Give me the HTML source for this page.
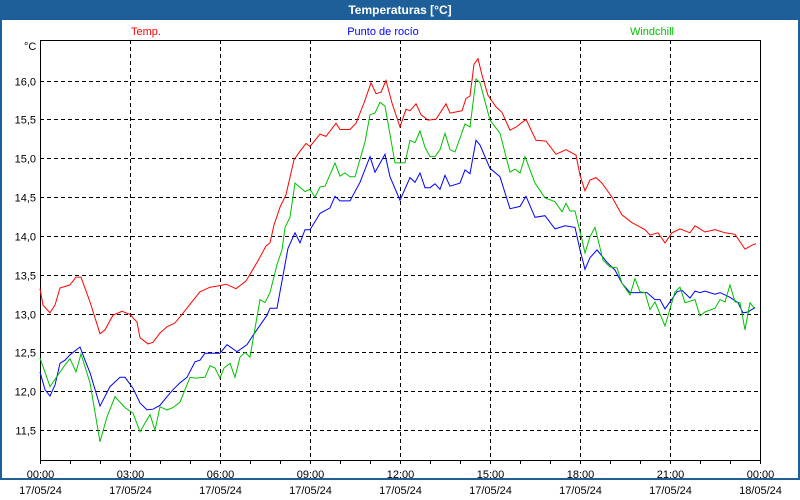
<!DOCTYPE html>
<html><head><meta charset="utf-8"><style>
body{margin:0;width:800px;height:500px;overflow:hidden;background:#fff;font-family:"Liberation Sans",sans-serif}
#frame{position:absolute;left:0;top:0;width:796px;height:478px;border:2px solid #1f5f99;border-top:none;}
#title{position:absolute;left:0;top:0;width:800px;height:20px;background:#1f5f99;color:#fff;font-weight:bold;font-size:12px;text-align:center;line-height:20px}
svg{position:absolute;left:0;top:0}
</style></head><body>
<div id="frame"></div>
<div id="title">Temperaturas [°C]</div>
<svg id="chart" width="800" height="500"></svg>
<script>
const yTicks=[11.5,12.0,12.5,13.0,13.5,14.0,14.5,15.0,15.5,16.0];
const xTickMinutes=[0,180,360,540,720,900,1080,1260,1440];
const xTickTimes=["00:00","03:00","06:00","09:00","12:00","15:00","18:00","21:00","00:00"];
const xTickDates=["17/05/24","17/05/24","17/05/24","17/05/24","17/05/24","17/05/24","17/05/24","17/05/24","18/05/24"];
const tempMin=[0,6,20,30,40,60,72,82,100,120,130,146,164,180,194,200,216,226,240,254,270,284,300,320,340,360,372,392,412,436,452,460,468,480,492,508,520,532,540,560,572,592,600,620,632,648,662,672,682,692,704,720,732,740,752,762,776,792,812,820,844,852,860,868,876,884,896,912,924,940,952,972,992,1012,1032,1052,1072,1080,1090,1100,1112,1124,1144,1164,1184,1210,1220,1236,1250,1264,1280,1300,1310,1330,1350,1370,1390,1410,1424,1432];
const tempVal=[13.32,13.11,13.01,13.11,13.33,13.37,13.47,13.47,13.15,12.74,12.79,12.98,13.03,12.99,12.89,12.69,12.61,12.63,12.75,12.83,12.88,12.99,13.12,13.28,13.34,13.36,13.38,13.32,13.42,13.68,13.87,13.91,14.14,14.37,14.53,14.98,15.09,15.19,15.15,15.31,15.28,15.45,15.37,15.37,15.45,15.71,15.97,15.83,15.85,16.0,15.71,15.40,15.63,15.61,15.70,15.56,15.49,15.50,15.70,15.58,15.61,15.77,15.80,16.21,16.28,16.07,15.81,15.66,15.59,15.36,15.40,15.50,15.23,15.22,15.05,15.11,15.04,14.78,14.58,14.72,14.75,14.68,14.50,14.27,14.17,14.08,14.01,14.04,13.91,14.04,14.09,14.04,14.13,14.05,14.08,14.04,14.02,13.83,13.88,13.90];
const dewMin=[0,10,20,30,40,50,60,80,90,100,120,140,160,170,186,200,214,226,240,254,266,280,294,310,320,330,360,374,394,414,426,440,454,460,474,480,490,496,510,520,530,540,560,580,590,600,620,640,660,670,690,700,720,740,750,760,770,780,790,800,810,820,840,850,860,872,880,900,920,940,960,972,990,1010,1030,1050,1070,1080,1090,1100,1114,1134,1150,1164,1180,1214,1230,1240,1250,1274,1284,1300,1310,1320,1330,1350,1360,1380,1396,1406,1416,1430];
const dewVal=[12.25,12.02,11.94,12.08,12.36,12.40,12.47,12.57,12.40,12.24,11.81,12.06,12.18,12.18,12.04,11.85,11.76,11.77,11.82,11.93,12.02,12.11,12.18,12.38,12.40,12.49,12.49,12.60,12.51,12.60,12.72,12.85,12.98,13.07,13.07,13.28,13.63,13.84,14.04,13.91,14.08,14.08,14.29,14.36,14.51,14.45,14.45,14.69,15.02,14.82,15.05,14.76,14.46,14.75,14.69,14.81,14.62,14.62,14.67,14.60,14.78,14.64,14.68,14.85,14.80,15.23,15.17,14.87,14.76,14.35,14.38,14.51,14.24,14.26,14.09,14.13,14.11,13.82,13.57,13.72,13.82,13.66,13.56,13.39,13.27,13.27,13.18,13.18,13.06,13.28,13.30,13.20,13.29,13.27,13.29,13.25,13.27,13.21,13.14,13.01,13.02,13.08];
const chillMin=[0,20,36,50,60,72,82,100,120,134,150,170,186,200,220,230,240,254,266,280,300,310,330,340,350,360,368,380,390,400,410,420,440,450,460,474,484,490,500,510,530,540,550,560,570,590,600,610,620,630,650,660,670,680,690,710,730,740,750,760,770,780,790,800,810,820,830,850,860,872,880,900,920,932,940,950,960,970,990,1010,1030,1044,1052,1060,1070,1084,1090,1100,1110,1126,1140,1154,1164,1180,1190,1200,1210,1220,1230,1250,1270,1280,1290,1310,1320,1330,1350,1360,1370,1380,1390,1400,1410,1420,1430];
const chillVal=[12.43,12.06,12.21,12.34,12.42,12.25,12.48,12.11,11.35,11.67,11.93,11.79,11.72,11.48,11.70,11.50,11.80,11.76,11.79,11.86,12.18,12.17,12.18,12.33,12.30,12.17,12.30,12.36,12.18,12.44,12.50,12.44,13.18,13.14,13.27,13.63,13.82,14.11,14.24,14.68,14.57,14.60,14.50,14.63,14.64,14.94,14.77,14.81,14.76,14.76,15.21,15.56,15.58,15.72,15.67,14.94,14.94,15.23,15.20,15.35,15.14,15.02,15.02,15.11,15.32,15.11,15.08,15.44,15.40,16.02,15.97,15.49,15.32,15.02,14.82,14.86,14.81,15.02,14.68,14.49,14.44,14.31,14.42,14.32,14.32,13.95,13.78,13.99,14.11,13.69,13.60,13.59,13.39,13.24,13.45,13.28,13.27,13.05,13.15,12.84,13.28,13.34,13.14,13.18,12.97,13.02,13.07,13.18,13.15,13.37,13.15,13.14,12.79,13.14,13.06];
</script>
<script>
const svg=document.getElementById('chart');
const NS='http://www.w3.org/2000/svg';
const X0=40,X1=760,Y0=40,Y1=460;
function xs(m){return X0+(m/1440)*(X1-X0);}
function ys(v){return 80.5+(16-v)*77.7;}
function mk(t,a,txt){const e=document.createElementNS(NS,t);for(const k in a)e.setAttribute(k,a[k]);if(txt!==undefined)e.textContent=txt;svg.appendChild(e);return e;}
yTicks.forEach(v=>{const y=Math.round(ys(v))+0.5;
 const g=mk('line',{x1:X0,x2:X1,y1:y,y2:y,stroke:'#000','stroke-dasharray':'4,3','stroke-width':1});
 
 
 const t=mk('text',{x:36,y:y+4,'text-anchor':'end','font-size':11,fill:'#000'},v.toFixed(1).replace('.',','));
 
 
});
xTickMinutes.forEach((m,i)=>{const x=Math.round(xs(m))+0.5;
 if(i>0&&i<xTickMinutes.length-1){const g=mk('line',{x1:x,x2:x,y1:Y0,y2:Y1,stroke:'#000','stroke-dasharray':'4,3'});
 
 }
 const t1=mk('text',{x:x,y:478,'text-anchor':'middle','font-size':11},xTickTimes[i]);
 
 
 const t2=mk('text',{x:x,y:494,'text-anchor':'middle','font-size':11},xTickDates[i]);
 
 
});
for(let h=0;h<=24;h++){const x=Math.round(xs(h*60))+0.5;const t=mk('line',{x1:x,x2:x,y1:Y1,y2:Y1+4,stroke:'#000'});
 
 }
const ax=mk('rect',{x:X0+0.5,y:Y0+0.5,width:X1-X0,height:Y1-Y0,fill:'none',stroke:'#000'});


const u=mk('text',{x:24,y:50,'font-size':11},'°C');


function line(ms,vs,col,name){const n=Math.min(ms.length,vs.length);const pts=[];for(let i=0;i<n;i++)pts.push(xs(ms[i]).toFixed(1)+','+ys(vs[i]).toFixed(1));
 const p=mk('polyline',{points:pts.join(' '),fill:'none',stroke:col,'stroke-width':1});
 
 }
line(tempMin,tempVal,'#ff0000','temp-line');
line(dewMin,dewVal,'#0000ff','dew-point-line');
line(chillMin,chillVal,'#00c000','windchill-line');
const l1=mk('text',{x:146,y:35,'text-anchor':'middle','font-size':11,fill:'#ff0000'},'Temp.');


const l2=mk('text',{x:383,y:35,'text-anchor':'middle','font-size':11,fill:'#0000ff'},'Punto de rocío');


const l3=mk('text',{x:652,y:35,'text-anchor':'middle','font-size':11,fill:'#00c000'},'Windchill');


</script>
</body></html>
